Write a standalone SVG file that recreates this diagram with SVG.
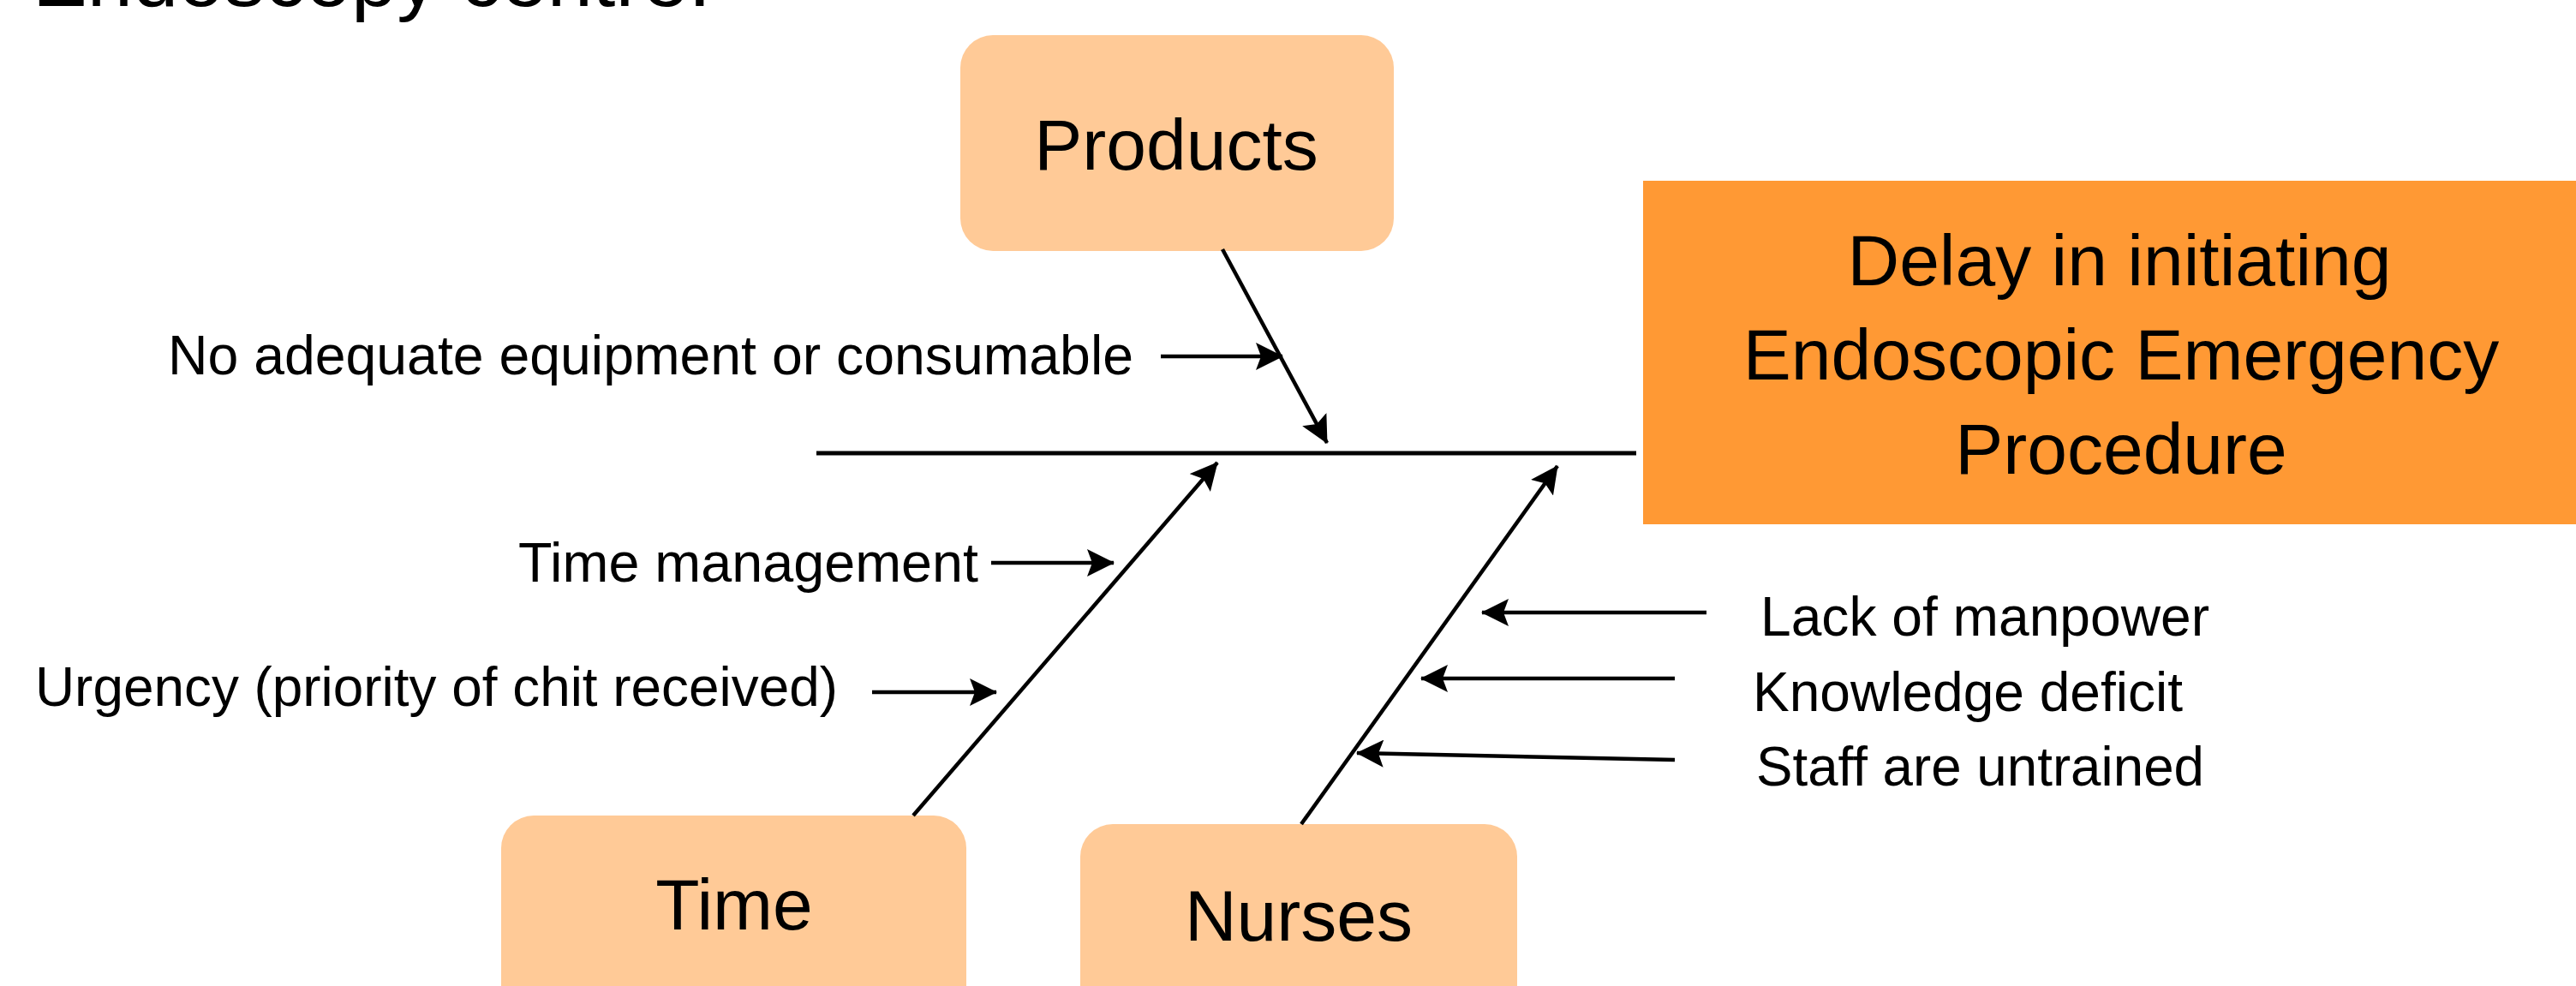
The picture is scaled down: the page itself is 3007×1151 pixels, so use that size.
<svg xmlns="http://www.w3.org/2000/svg" width="3007" height="1151" viewBox="0 0 3007 1151">
  <style>
    .bg { fill: #ffffff; }
    .cat { fill: #FFCA97; }
    .effect { fill: #FF9934; }
    .txt { font-family: "Liberation Sans", Arial, sans-serif; fill: #000000; }
    .head { font-size: 84px; text-anchor: middle; }
    .lbl { font-size: 64px; }
    .title { font-family: "Liberation Sans", Arial, sans-serif; font-size: 92px; fill: #000000; }
    .line { stroke: #000000; stroke-width: 5; fill: none; }
    .arrow { stroke: #000000; stroke-width: 4.5; fill: none; marker-end: url(#tip); }
  </style>
  <defs>
    <marker id="tip" viewBox="0 0 32 32" refX="31" refY="16" markerWidth="32" markerHeight="32" markerUnits="userSpaceOnUse" orient="auto">
      <path d="M0,0 L32,16 L0,32 L6,16 Z" fill="#000000"/>
    </marker>
  </defs>

  <rect class="bg" x="0" y="0" width="3007" height="1151"/>

  <!-- heading line, clipped by the top edge -->
  <text class="title" x="38" y="7" textLength="792" lengthAdjust="spacingAndGlyphs">Endoscopy centre.</text>

  <!-- effect box -->
  <g id="effect">
    <rect class="effect" x="1918" y="211" width="1089" height="401"/>
    <text class="txt head" x="2474" y="333">Delay in initiating</text>
    <text class="txt head" x="2476" y="443">Endoscopic Emergency</text>
    <text class="txt head" x="2476" y="553">Procedure</text>
  </g>

  <!-- category boxes -->
  <g id="products">
    <rect class="cat" x="1121" y="41" width="506" height="252" rx="38" ry="38"/>
    <text class="txt head" x="1373" y="198">Products</text>
  </g>
  <g id="time">
    <rect class="cat" x="585" y="952" width="543" height="240" rx="38" ry="38"/>
    <text class="txt head" x="857" y="1085">Time</text>
  </g>
  <g id="nurses">
    <rect class="cat" x="1261" y="962" width="510" height="230" rx="38" ry="38"/>
    <text class="txt head" x="1516" y="1098">Nurses</text>
  </g>

  <!-- cause labels -->
  <g id="causes">
    <text class="txt lbl" x="196" y="437" textLength="1127" lengthAdjust="spacingAndGlyphs">No adequate equipment or consumable</text>
    <text class="txt lbl" x="605" y="679" textLength="537" lengthAdjust="spacingAndGlyphs">Time management</text>
    <text class="txt lbl" x="41" y="824" textLength="937" lengthAdjust="spacingAndGlyphs">Urgency (priority of chit received)</text>
    <text class="txt lbl" x="2055" y="742" textLength="524" lengthAdjust="spacingAndGlyphs">Lack of manpower</text>
    <text class="txt lbl" x="2046" y="830" textLength="502" lengthAdjust="spacingAndGlyphs">Knowledge deficit</text>
    <text class="txt lbl" x="2050" y="917" textLength="523" lengthAdjust="spacingAndGlyphs">Staff are untrained</text>
  </g>

  <!-- spine, bones and cause arrows -->
  <g id="connectors">
    <line class="line" x1="953" y1="529" x2="1910" y2="529"/>
    <line class="arrow" x1="1427" y1="291" x2="1549" y2="517"/>
    <line class="arrow" x1="1066" y1="952" x2="1421" y2="540"/>
    <line class="arrow" x1="1519" y1="962" x2="1818" y2="544"/>
    <line class="arrow" x1="1355" y1="416" x2="1497" y2="416"/>
    <line class="arrow" x1="1157" y1="657" x2="1300" y2="657"/>
    <line class="arrow" x1="1018" y1="808" x2="1163" y2="808"/>
    <line class="arrow" x1="1992" y1="715" x2="1730" y2="715"/>
    <line class="arrow" x1="1955" y1="792" x2="1659" y2="792"/>
    <line class="arrow" x1="1955" y1="887" x2="1584" y2="879"/>
  </g>
</svg>
